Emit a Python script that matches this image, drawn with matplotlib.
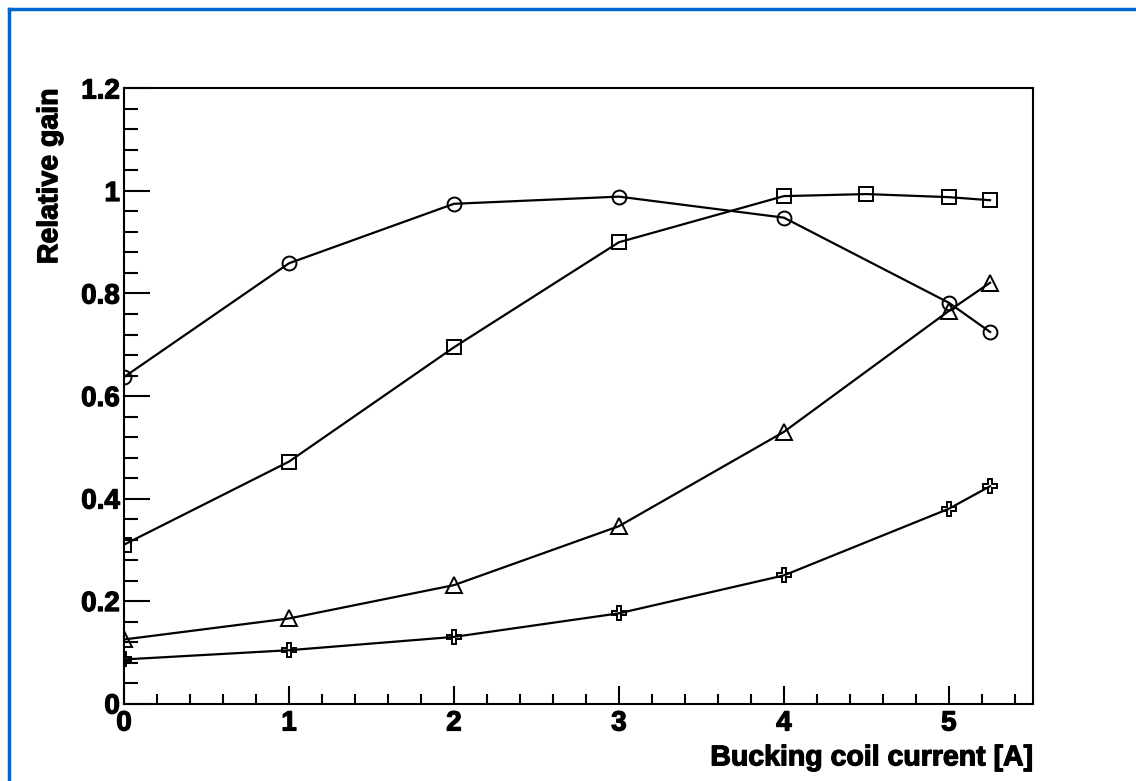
import matplotlib.pyplot as plt
import matplotlib.patheffects as pe
from matplotlib.lines import Line2D
from matplotlib.ticker import MultipleLocator

# data
x_circle = [0, 1, 2, 3, 4, 5, 5.25]
gain_circle = [0.637, 0.859, 0.975, 0.989, 0.948, 0.782, 0.725]

x_square = [0, 1, 2, 3, 4, 4.5, 5, 5.25]
gain_square = [0.31, 0.472, 0.695, 0.90, 0.99, 0.994, 0.988, 0.982]

x_triangle = [0, 1, 2, 3, 4, 5, 5.25]
gain_triangle = [0.125, 0.166, 0.231, 0.346, 0.53, 0.766, 0.821]

x_cross = [0, 1, 2, 3, 4, 5, 5.25]
gain_cross = [0.086, 0.104, 0.13, 0.176, 0.25, 0.38, 0.424]

plt.rcParams['font.family'] = ['Liberation Sans', 'DejaVu Sans']

fig = plt.figure(figsize=(11.36, 7.81), dpi=100)
ax = fig.add_axes([0.1092, 0.0992, 0.8001, 0.7875])

style = dict(color='black', lw=1.6, markerfacecolor='none', markeredgecolor='black', markeredgewidth=1.4)
ax.plot(x_circle, gain_circle, marker='o', ms=10, **style)
ax.plot(x_square, gain_square, marker='s', ms=10, **style)
ax.plot(x_triangle, gain_triangle, marker='^', ms=11, **style)
ax.plot(x_cross, gain_cross, marker='P', ms=10, **style)

ax.set_xlim(0, 5.51)
ax.set_ylim(0, 1.2)

ax.xaxis.set_major_locator(MultipleLocator(1))
ax.xaxis.set_minor_locator(MultipleLocator(0.2))
ax.yaxis.set_minor_locator(MultipleLocator(0.04))
ax.set_yticks([0, 0.2, 0.4, 0.6, 0.8, 1.0, 1.2])
ax.set_yticklabels(['0', '0.2', '0.4', '0.6', '0.8', '1', '1.2'])

ax.tick_params(axis='both', which='both', direction='in', top=False, right=False, width=1.5)
ax.tick_params(axis='y', which='major', length=19)
ax.tick_params(axis='y', which='minor', length=10)
ax.tick_params(axis='x', which='major', length=13)
ax.tick_params(axis='x', which='minor', length=7)
ax.tick_params(axis='both', which='major', labelsize=20)
ax.tick_params(axis='x', pad=5)
ax.tick_params(axis='y', pad=3)

heavy = [pe.withStroke(linewidth=0.9, foreground='black')]
for lab in ax.get_xticklabels() + ax.get_yticklabels():
    lab.set_fontweight('bold')
    lab.set_path_effects(heavy)

for sp in ax.spines.values():
    sp.set_linewidth(1.5)

ax.set_xlabel('Bucking coil current [A]', fontsize=20.5, fontweight='bold', loc='right', path_effects=heavy)
ax.set_ylabel('Relative gain', fontsize=20.5, fontweight='bold', loc='top', path_effects=heavy)
ax.xaxis.set_label_coords(1.0, -0.068)
ax.yaxis.set_label_coords(-0.067, 1.0)

# blue frame of the picture
blue = '#0066cc'
fig.add_artist(Line2D([9 / 1136, 1.0], [1 - 9 / 781, 1 - 9 / 781], color=blue, lw=2.5, transform=fig.transFigure))
fig.add_artist(Line2D([9 / 1136, 9 / 1136], [0.0, 1 - 9 / 781], color=blue, lw=2.5, transform=fig.transFigure))

fig.savefig('out.png', dpi=100)
